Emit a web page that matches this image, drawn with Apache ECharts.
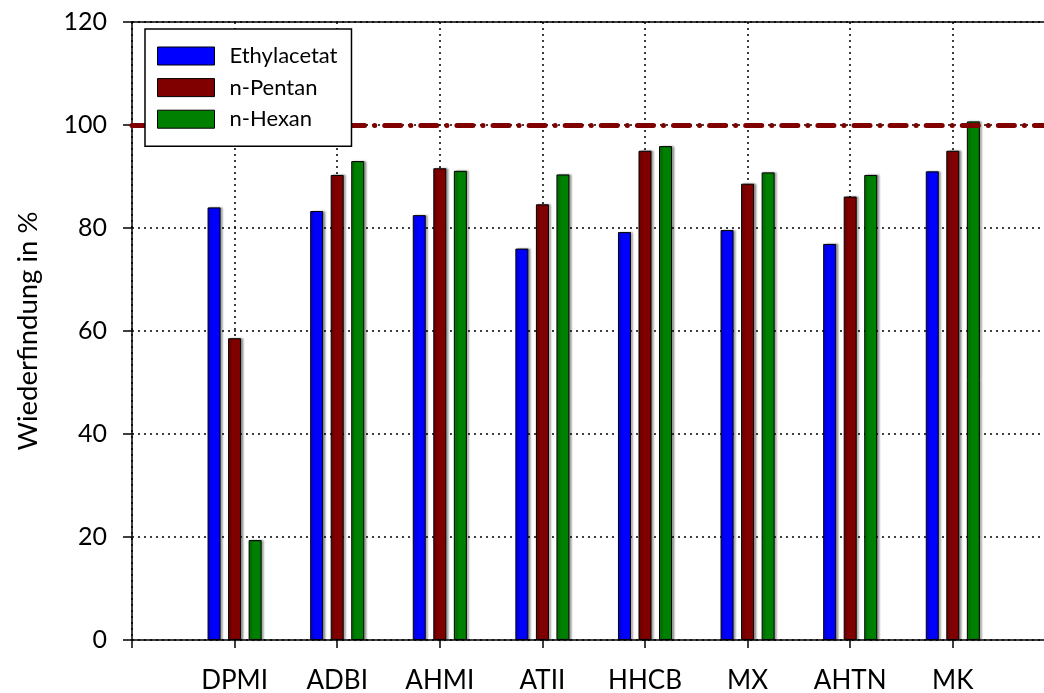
<!DOCTYPE html>
<html>
<head>
<meta charset="utf-8">
<script src="https://cdn.jsdelivr.net/npm/echarts@6/dist/echarts.min.js"></script>
<style>
html,body{margin:0;padding:0;background:#fff;}
#chart{width:1044px;height:693px;}
</style>
</head>
<body>
<div id="chart"></div>
<script>
// Data
var categories = ['DPMI', 'ADBI', 'AHMI', 'ATII', 'HHCB', 'MX', 'AHTN', 'MK'];
var ethylacetat = [84.0, 83.3, 82.5, 76.0, 79.2, 79.6, 76.9, 91.0];
var pentan = [58.6, 90.3, 91.6, 84.6, 95.0, 88.6, 86.1, 95.0];
var hexan = [19.4, 93.0, 91.1, 90.4, 95.9, 90.8, 90.3, 100.7];
var yTicks = [0, 20, 40, 60, 80, 100, 120];
var referenceLine = 100;

// padded categories (empty slot at both ends)
var cats = [''].concat(categories).concat(['']);
function pad(a) { return ['-'].concat(a).concat(['-']); }

var FONT = 'Lato, "Open Sans", sans-serif';
var dotted = { color: '#000', width: 1.5, type: [2, 4] };
var barBase = {
  type: 'bar',
  barWidth: 13,
  barGap: '58%',
  itemStyle: {
    borderColor: '#000',
    borderWidth: 1,
    shadowColor: 'rgba(0,0,0,0.35)',
    shadowBlur: 2,
    shadowOffsetX: 2
  }
};

var chart = echarts.init(document.getElementById('chart'));
chart.setOption({
  animation: false,
  backgroundColor: '#fff',
  textStyle: { fontFamily: FONT },
  grid: {
    left: 132, top: 22, right: -11.4, bottom: 53,
    outerBoundsMode: 'none',
    containLabel: false,
    show: false
  },
  legend: {
    orient: 'vertical',
    left: 145, top: 29,
    z: 20,
    itemWidth: 57, itemHeight: 18, itemGap: 9.6,
    padding: [16, 14, 16, 12],
    borderColor: '#000', borderWidth: 1.5,
    backgroundColor: '#fff',
    icon: 'rect',
    textStyle: { fontSize: 22, color: '#000', fontFamily: FONT, padding: [0, 0, 0, 10] },
    itemStyle: { borderColor: '#000', borderWidth: 1 },
    data: ['Ethylacetat', 'n-Pentan', 'n-Hexan']
  },
  xAxis: [{
    type: 'category',
    data: cats,
    boundaryGap: false,
    axisLine: { lineStyle: { color: '#000', width: 1.5 } },
    axisTick: { show: true, length: 8, lineStyle: { color: '#000', width: 1.5 } },
    axisLabel: { fontSize: 26, color: '#000', margin: 28, fontFamily: FONT, interval: 0 },
    splitLine: { show: true, lineStyle: dotted }
  }, {
    type: 'category',
    data: cats,
    boundaryGap: false,
    position: 'top',
    axisLine: { show: true, lineStyle: { color: '#000', width: 1.5 } },
    axisTick: { show: false },
    axisLabel: { show: false },
    splitLine: { show: false }
  }],
  yAxis: {
    type: 'value',
    min: yTicks[0], max: yTicks[yTicks.length - 1], interval: 20,
    name: 'Wiederfindung in %',
    nameLocation: 'middle',
    nameGap: 90,
    nameTextStyle: { fontSize: 27.5, color: '#000', fontFamily: FONT },
    axisLine: { show: true, lineStyle: { color: '#000', width: 1.5 } },
    axisTick: { show: true, length: 9, lineStyle: { color: '#000', width: 1.5 } },
    axisLabel: { fontSize: 25, color: '#000', margin: 25, fontFamily: FONT },
    splitLine: { show: true, lineStyle: dotted }
  },
  series: [
    Object.assign({}, barBase, {
      name: 'Ethylacetat', data: pad(ethylacetat),
      itemStyle: Object.assign({}, barBase.itemStyle, { color: '#0000FF' }),
      markLine: {
        silent: true, symbol: 'none', animation: false,
        label: { show: false },
        lineStyle: { color: '#800000', width: 5, type: [16, 10, 0.1, 10], cap: 'round' },
        data: [{ yAxis: referenceLine }]
      }
    }),
    Object.assign({}, barBase, {
      name: 'n-Pentan', data: pad(pentan),
      itemStyle: Object.assign({}, barBase.itemStyle, { color: '#800000' })
    }),
    Object.assign({}, barBase, {
      name: 'n-Hexan', data: pad(hexan),
      itemStyle: Object.assign({}, barBase.itemStyle, { color: '#008000' })
    })
  ]
});
</script>
</body>
</html>
